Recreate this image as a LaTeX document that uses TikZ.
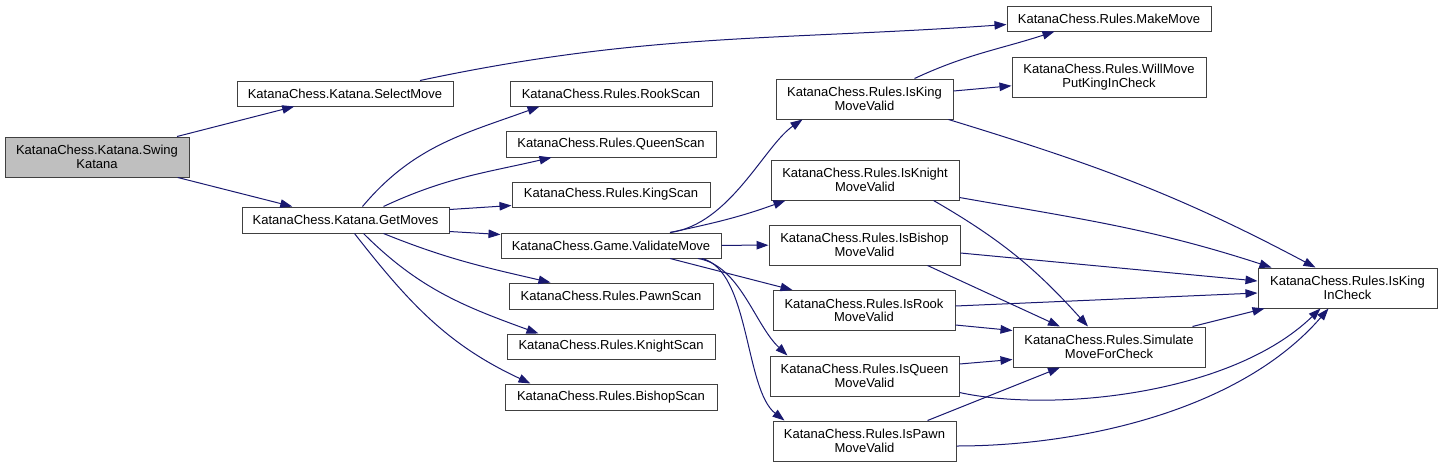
\documentclass[tikz,border=0pt]{standalone}
\usepackage{fontspec}
\setmainfont{Liberation Sans}
\usetikzlibrary{arrows.meta}
\definecolor{MidnightBlue}{HTML}{191970}
\definecolor{BoxGrey}{HTML}{404040}
\definecolor{FillGrey}{HTML}{BFBFBF}

\begin{document}
\begin{tikzpicture}[
    x=1pt, y=1pt,
    every node/.style={font=\fontsize{13}{13.5}\selectfont},
    box/.style={draw=BoxGrey, line width=1pt, fill=white, align=center, inner sep=0pt},
    arr/.style={-{Triangle[length=12pt, width=8.5pt]}, line width=1pt, MidnightBlue},
]
\useasboundingbox (0,0) rectangle (1441,-467);

% =============================================
% CALLER AND FIRST LEVEL
% =============================================
\node[box, fill=FillGrey, minimum width=184pt, minimum height=40pt] (swing) at (97,-157)
    {KatanaChess.Katana.Swing\\Katana};
\node[box, minimum width=216pt, minimum height=25pt] (select) at (345,-93.5)
    {KatanaChess.Katana.SelectMove};
\node[box, minimum width=207pt, minimum height=26pt] (getmoves) at (345.5,-220)
    {KatanaChess.Katana.GetMoves};

% =============================================
% SCANS + VALIDATE
% =============================================
\node[box, minimum width=202pt, minimum height=25pt] (rook) at (611,-93.5) {KatanaChess.Rules.RookScan};
\node[box, minimum width=210pt, minimum height=26pt] (queen) at (611,-144) {KatanaChess.Rules.QueenScan};
\node[box, minimum width=198pt, minimum height=25pt] (king) at (611,-194.5) {KatanaChess.Rules.KingScan};
\node[box, minimum width=220pt, minimum height=25pt] (validate) at (611,-245.5) {KatanaChess.Game.ValidateMove};
\node[box, minimum width=204pt, minimum height=26pt] (pawn) at (611,-296) {KatanaChess.Rules.PawnScan};
\node[box, minimum width=208pt, minimum height=25pt] (knight) at (611,-346.5) {KatanaChess.Rules.KnightScan};
\node[box, minimum width=212pt, minimum height=26pt] (bishop) at (611,-397) {KatanaChess.Rules.BishopScan};

% =============================================
% MOVE CHECKS
% =============================================
\node[box, minimum width=177pt, minimum height=40pt] (isking) at (864.5,-99)
    {KatanaChess.Rules.IsKing\\MoveValid};
\node[box, minimum width=188pt, minimum height=40pt] (isknight) at (865,-180)
    {KatanaChess.Rules.IsKnight\\MoveValid};
\node[box, minimum width=191pt, minimum height=40pt] (isbishop) at (864.5,-245)
    {KatanaChess.Rules.IsBishop\\MoveValid};
\node[box, minimum width=182pt, minimum height=40pt] (isrook) at (864,-310.5)
    {KatanaChess.Rules.IsRook\\MoveValid};
\node[box, minimum width=189pt, minimum height=40pt] (isqueen) at (864.5,-376)
    {KatanaChess.Rules.IsQueen\\MoveValid};
\node[box, minimum width=183pt, minimum height=40pt] (ispawn) at (864.5,-441)
    {KatanaChess.Rules.IsPawn\\MoveValid};

% =============================================
% RIGHT SIDE
% =============================================
\node[box, minimum width=204pt, minimum height=25pt] (makemove) at (1109,-18.5) {KatanaChess.Rules.MakeMove};
\node[box, minimum width=194pt, minimum height=40pt] (willmove) at (1109,-77)
    {KatanaChess.Rules.WillMove\\PutKingInCheck};
\node[box, minimum width=192pt, minimum height=40pt] (simulate) at (1109,-347)
    {KatanaChess.Rules.Simulate\\MoveForCheck};
\node[box, minimum width=179pt, minimum height=40pt] (incheck) at (1347.5,-288)
    {KatanaChess.Rules.IsKing\\InCheck};

% =============================================
% CALLS
% =============================================
\draw[arr] (swing) -- (select);
\draw[arr] (swing) -- (getmoves);
\draw[arr] ([xshift=75pt]select.north) to[out=12, in=184] ([yshift=-6pt]makemove.west);

\draw[arr] ([xshift=17pt]getmoves.north) to[out=50, in=200] ([xshift=30pt]rook.south west);
\draw[arr] ([xshift=38pt]getmoves.north) to[out=25, in=193] ([xshift=46pt]queen.south west);
\draw[arr] ([yshift=-3pt]getmoves.north east) -- ([yshift=2pt]king.south west);
\draw[arr] ([yshift=2pt]getmoves.south east) -- ([yshift=-2pt]validate.north west);
\draw[arr] ([xshift=38pt]getmoves.south) to[out=-22, in=167] ([xshift=42pt]pawn.north west);
\draw[arr] ([xshift=18pt]getmoves.south) to[out=-45, in=160] ([xshift=32pt]knight.north west);
\draw[arr] ([xshift=9pt]getmoves.south) to[out=-52, in=155] ([xshift=26pt]bishop.north west);

% validate -> move checks
\draw[arr] ([xshift=59pt]validate.north) .. controls +(60,8) and +(-38,-26) .. ([xshift=27pt]isking.south west);
\draw[arr] ([xshift=59pt]validate.north) to[out=12, in=200] ([xshift=15pt]isknight.south west);
\draw[arr] (validate) -- (isbishop);
\draw[arr] ([xshift=59pt]validate.south) -- ([xshift=20pt]isrook.north west);
\draw[arr] ([xshift=87pt]validate.south) .. controls +(42,-7) and +(-33,31) .. ([xshift=18pt]isqueen.north west);
\draw[arr] ([xshift=91pt]validate.south) .. controls +(48,-12) and +(-40,31) .. ([xshift=12pt]ispawn.north west);

% move checks -> rules
\draw[arr] ([xshift=50pt]isking.north) to[out=25, in=198] ([xshift=48pt]makemove.south west);
\draw[arr] (isking) -- (willmove);
\draw[arr] ([xshift=-5pt]isking.south east) to[out=-17, in=152] ([xshift=-32pt]incheck.north);
\draw[arr] ([yshift=3pt]isknight.south east) to[out=-10, in=162] ([xshift=14pt]incheck.north west);
\draw[arr] ([xshift=-26pt]isknight.south east) to[out=-30, in=132] ([xshift=-21pt]simulate.north);
\draw[arr] ([yshift=-8pt]isbishop.east) -- ([yshift=7pt]incheck.west);
\draw[arr] ([xshift=-33pt]isbishop.south east) -- ([xshift=-49pt]simulate.north);
\draw[arr] ([yshift=4.5pt]isrook.east) -- ([yshift=-5pt]incheck.west);
\draw[arr] ([yshift=6pt]isrook.south east) -- ([yshift=-4pt]simulate.north west);
\draw[arr] ([yshift=12pt]isqueen.east) -- ([yshift=8pt]simulate.south west);
\draw[arr] ([yshift=4pt]isqueen.south east) .. controls +(91,-20) and +(-90,-87) .. ([xshift=-27pt]incheck.south);
\draw[arr] ([xshift=-29pt]ispawn.north east) -- ([xshift=-49pt]simulate.south);
\draw[arr] ([yshift=-5pt]ispawn.east) .. controls +(124,0) and +(-88,-102) .. ([xshift=-19pt]incheck.south);
\draw[arr] ([xshift=-13pt]simulate.north east) -- ([xshift=7pt]incheck.south west);

\end{tikzpicture}
\end{document}
